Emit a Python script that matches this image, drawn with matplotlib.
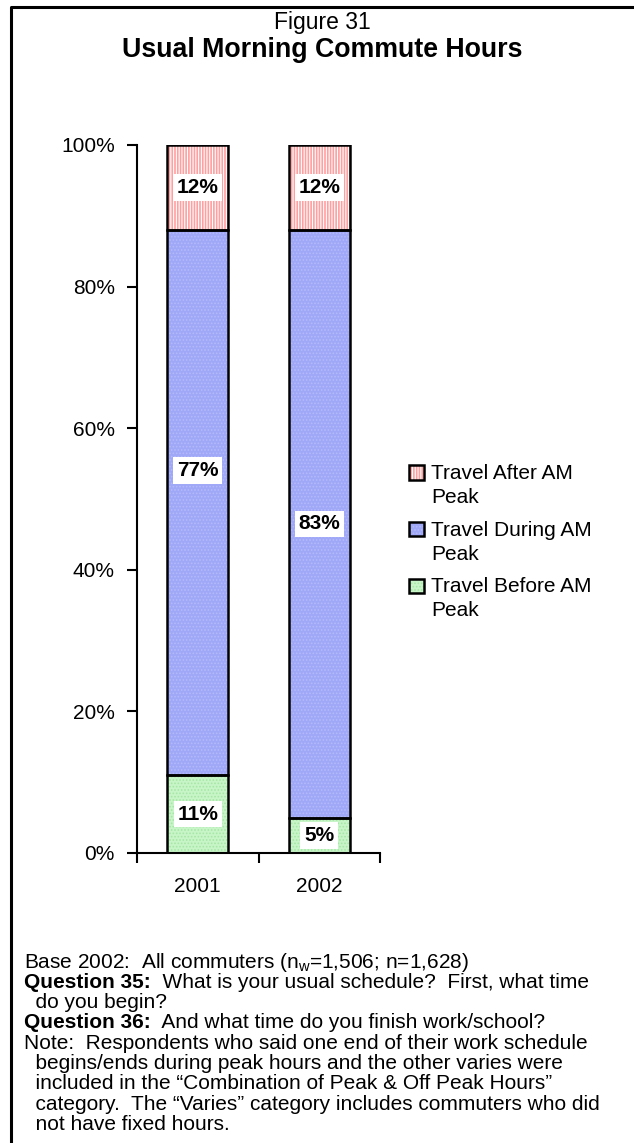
import numpy as np
import matplotlib.pyplot as plt
from matplotlib.patches import Patch
from matplotlib.lines import Line2D
from matplotlib.legend_handler import HandlerTuple

plt.rcParams['font.family'] = ['Liberation Sans', 'DejaVu Sans']
plt.rcParams['hatch.linewidth'] = 0.8

years = ['2001', '2002']
series = ['Travel Before AM\nPeak', 'Travel During AM\nPeak', 'Travel After AM\nPeak']
values = {
    'Travel Before AM\nPeak': [11, 5],
    'Travel During AM\nPeak': [77, 83],
    'Travel After AM\nPeak': [12, 12],
}
face = ['#C8F5C8', '#9FA7F7', '#FF9F9F']
hatch_col = ['#A6E6A6', '#B4BAFA', 'white']
hatches = ['.....', '.....', '||||||']
# label nudges in points (the 2001 "during" label sits higher in the original)
nudge = {(1, 0): 23}


class FirstLineHandler(HandlerTuple):
    # put the legend square next to the first line of a two-line label
    def create_artists(self, legend, orig_handle, xdescent, ydescent, width, height,
                       fontsize, trans):
        return super().create_artists(legend, orig_handle, xdescent, ydescent - 9.5,
                                      width, height, fontsize, trans)


fig = plt.figure(figsize=(6.34, 11.43), dpi=100)
ax = fig.add_axes([137/634, 1 - 853/1143, 243/634, 708/1143])

x = np.arange(len(years))
bottom = np.zeros(len(years))
handles = []
for i, name in enumerate(series):
    v = np.array(values[name], dtype=float)
    ax.bar(x, v, 0.5, bottom=bottom, color=face[i], edgecolor=hatch_col[i],
           hatch=hatches[i], linewidth=0, zorder=2)
    ax.bar(x, v, 0.5, bottom=bottom, fill=False, edgecolor='black', linewidth=1.8, zorder=3)
    for xi, (b, vi) in enumerate(zip(bottom, v)):
        ax.annotate(f'{vi:.0f}%', (xi, b + vi / 2), xytext=(0, nudge.get((i, xi), 0)),
                    textcoords='offset points', ha='center', va='center', fontsize=15,
                    fontweight='bold', zorder=4,
                    bbox=dict(boxstyle='square,pad=0.18', fc='white', ec='none'))
    bottom += v
    handles.append((Patch(facecolor=face[i], edgecolor=hatch_col[i], hatch=hatches[i], linewidth=0),
                    Patch(fill=False, edgecolor='black', linewidth=1.8)))

ax.set_xlim(-0.5, 1.5)
ax.set_ylim(0, 100)
ax.set_yticks(np.arange(0, 101, 20))
ax.set_yticklabels([f'{t}%' for t in range(0, 101, 20)])
ax.set_xticks([-0.5, 0.5, 1.5], minor=False)
ax.set_xticklabels([])
ax.set_xticks(x, minor=True)
ax.set_xticklabels(years, minor=True)
ax.tick_params(axis='x', which='minor', length=0, pad=17, labelsize=15)
ax.tick_params(axis='x', which='major', length=7, width=1.5, direction='out')
ax.tick_params(axis='y', length=7, width=1.5, direction='out', labelsize=15, pad=9)
for s in ['top', 'right']:
    ax.spines[s].set_visible(False)
for s in ['left', 'bottom']:
    ax.spines[s].set_linewidth(1.5)

leg = ax.legend(handles[::-1], series[::-1], handler_map={tuple: FirstLineHandler(ndivide=1)},
                loc='upper left', bbox_to_anchor=(409/634, 1 - 464/1143),
                bbox_transform=fig.transFigure, frameon=False, fontsize=15,
                handlelength=0.7, handleheight=0.7, handletextpad=0.35,
                labelspacing=0.66, borderpad=0, borderaxespad=0)
for t in leg.get_texts():
    t.set_linespacing(1.33)

# frame
fig.add_artist(Line2D([11/634, 11/634, 1], [0, 1 - 7/1143, 1 - 7/1143],
                      transform=fig.transFigure, color='black', lw=2.2))

fig.text(0.508, 1 - 22/1143, 'Figure 31', ha='center', va='center', fontsize=16.5)
fig.text(0.508, 1 - 50/1143, 'Usual Morning Commute Hours', ha='center', va='center',
         fontsize=19.3, fontweight='bold')

notes = [
    ('', 'Base 2002:  All commuters (n$_\\mathregular{w}$=1,506; n=1,628)'),
    ('Question 35:', '  What is your usual schedule?  First, what time'),
    ('', '  do you begin?'),
    ('Question 36:', '  And what time do you finish work/school?'),
    ('', 'Note:  Respondents who said one end of their work schedule'),
    ('', '  begins/ends during peak hours and the other varies were'),
    ('', '  included in the \u201cCombination of Peak & Off Peak Hours\u201d'),
    ('', '  category.  The \u201cVaries\u201d category includes commuters who did'),
    ('', '  not have fixed hours.'),
]
y0 = 962
fs = 15
for k, (bold, rest) in enumerate(notes):
    yy = 1 - (y0 + k * 20.3) / 1143
    if bold:
        t1 = fig.text(24/634, yy, bold, fontsize=fs, fontweight='bold', va='center')
        fig.canvas.draw()
        bb = t1.get_window_extent()
        fig.text(bb.x1 / 634, yy, rest, fontsize=fs, va='center')
    else:
        fig.text(24/634, yy, rest, fontsize=fs, va='center')

fig.savefig('out.png', dpi=100)
